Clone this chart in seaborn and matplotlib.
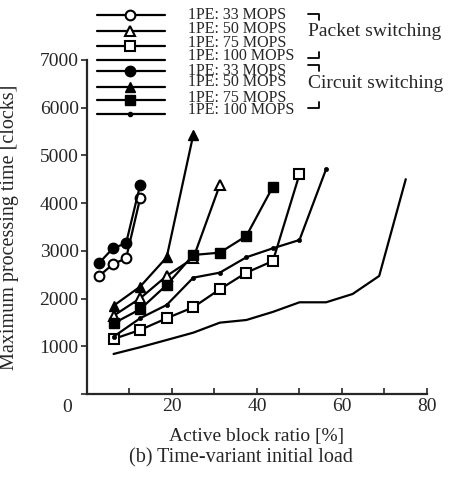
import matplotlib
matplotlib.use("Agg")
import matplotlib.pyplot as plt
from matplotlib.lines import Line2D
import seaborn as sns
import pandas as pd

# ---------------- data ----------------
x_circle = [2.8, 6.1, 9.2, 12.5]
x_main = [6.25, 12.5, 18.75, 25, 31.25, 37.5, 43.75, 50, 56.25, 62.5, 68.75, 75]

packet_33 = [2470, 2720, 2845, 4100]
circuit_33 = [2740, 3055, 3160, 4380]
packet_50 = [1640, 2005, 2475, 2845, 4380]
circuit_50 = [1850, 2250, 2865, 5430]
packet_75 = [1153, 1342, 1587, 1818, 2195, 2543, 2788, 4606]
circuit_75 = [1480, 1776, 2285, 2914, 2962, 3312, 4346]
packet_100 = [839, 980, 1132, 1285, 1495, 1551, 1721, 1922, 1922, 2096, 2474, 4501]
circuit_100 = [1201, 1587, 1866, 2438, 2543, 2866, 3054, 3228, 4711]

legend_labels = ["1PE: 33 MOPS", "1PE: 50 MOPS", "1PE: 75 MOPS", "1PE: 100 MOPS"]
x_ticks = [0, 20, 40, 60, 80]
y_ticks = [0, 1000, 2000, 3000, 4000, 5000, 6000, 7000]

# ---------------- style ----------------
sns.set_style("ticks")
plt.rcParams['font.family'] = ['Liberation Serif', 'DejaVu Serif']
plt.rcParams['font.size'] = 14

W, H = 460, 478
fig = plt.figure(figsize=(W / 100, H / 100), dpi=100)
ax = fig.add_axes([87 / W, 1 - 394 / H, (427 - 87) / W, (394 - 60) / H])

series = [
    ("Packet 33", x_circle, packet_33, dict(marker='o', ms=7, mfc='white', mec='black', mew=1.5)),
    ("Circuit 33", x_circle, circuit_33, dict(marker='o', ms=7.5, mfc='black', mec='black', mew=1.0)),
    ("Packet 50", x_main, packet_50, dict(marker='^', ms=7, mfc='white', mec='black', mew=1.5)),
    ("Circuit 50", x_main, circuit_50, dict(marker='^', ms=7.5, mfc='black', mec='black', mew=1.0)),
    ("Packet 75", x_main, packet_75, dict(marker='s', ms=6.5, mfc='white', mec='black', mew=1.5)),
    ("Circuit 75", x_main, circuit_75, dict(marker='s', ms=7, mfc='black', mec='black', mew=1.0)),
    ("Packet 100", x_main, packet_100, dict(marker=None)),
    ("Circuit 100", x_main, circuit_100, dict(marker='o', ms=3, mfc='black', mec='black', mew=0.5)),
]

for name, xs, ys, kw in series:
    df = pd.DataFrame({"x": xs[:len(ys)], "y": ys})
    sns.lineplot(data=df, x="x", y="y", ax=ax, color='black', lw=1.6,
                 estimator=None, sort=False, legend=False, **kw)

ax.set_xlim(0, 80)
ax.set_ylim(0, 7000)
ax.set_xticks(x_ticks)
ax.set_xticklabels([''] + [str(t) for t in x_ticks[1:]])
ax.set_xticks([10, 30, 50, 70], minor=True)
ax.set_yticks(y_ticks)
ax.set_yticklabels([''] + [str(t) for t in y_ticks[1:]])
ax.tick_params(axis='x', which='both', direction='in', length=4, width=1.2, pad=3, labelsize=14)
ax.tick_params(axis='y', direction='out', length=4, width=1.2, pad=2, labelsize=14)
for s in ['top', 'right']:
    ax.spines[s].set_visible(False)
for s in ['left', 'bottom']:
    ax.spines[s].set_linewidth(1.6)

ax.set_xlabel("Active block ratio [%]", fontsize=14)
ax.set_ylabel("Maximum processing time [clocks]", fontsize=14.5)
ax.xaxis.set_label_coords(0.5, (394 - 428) / 334)
ax.yaxis.set_label_coords((19 - 87) / 340, 0.5)

fig.text(67 / W, 1 - 408 / H, "0", ha='center', va='center', fontsize=14)
fig.text(241 / W, 1 - 458 / H, "(b) Time-variant initial load", ha='center', va='center', fontsize=14.5)

# ---------------- manual legend ----------------
def fx(px):
    return px / W

def fy(py):
    return 1 - py / H

leg_rows = [
    (15, dict(marker='o', ms=7, mfc='white', mec='black', mew=1.5)),
    (31, dict(marker='^', ms=7, mfc='white', mec='black', mew=1.5)),
    (46, dict(marker='s', ms=6.5, mfc='white', mec='black', mew=1.5)),
    (60, dict(marker=None)),
    (71, dict(marker='o', ms=7.5, mfc='black', mec='black')),
    (87, dict(marker='^', ms=7.5, mfc='black', mec='black')),
    (100, dict(marker='s', ms=7, mfc='black', mec='black')),
    (114, dict(marker='o', ms=3, mfc='black', mec='black')),
]
for py, kw in leg_rows:
    fig.add_artist(Line2D([fx(97), fx(165)], [fy(py), fy(py)], color='black', lw=1.6,
                          transform=fig.transFigure))
    if kw.get('marker'):
        fig.add_artist(Line2D([fx(130)], [fy(py)], color='black', lw=0,
                              transform=fig.transFigure, **kw))

text_rows = [15, 29, 43, 56, 71, 82, 98, 110]
for i, py in enumerate(text_rows):
    fig.text(fx(188), fy(py), legend_labels[i % 4], ha='left', va='center', fontsize=11.5)

def bracket(top, bottom):
    fig.add_artist(Line2D([fx(308), fx(319), fx(319)], [fy(top), fy(top), fy(top + 6)],
                          color='black', lw=1.3, transform=fig.transFigure))
    fig.add_artist(Line2D([fx(319), fx(319), fx(308)], [fy(bottom - 6), fy(bottom), fy(bottom)],
                          color='black', lw=1.3, transform=fig.transFigure))

bracket(14, 58)
bracket(65, 108)
fig.text(fx(308), fy(32), "Packet switching", ha='left', va='center', fontsize=14)
fig.text(fx(308), fy(84), "Circuit switching", ha='left', va='center', fontsize=14)

fig.savefig("out.png", dpi=100)
